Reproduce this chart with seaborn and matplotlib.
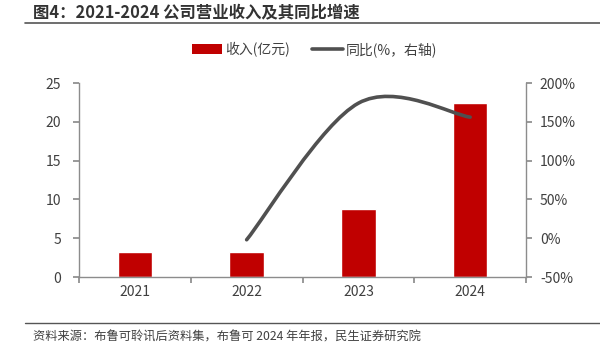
import seaborn as sns
import matplotlib.pyplot as plt
import numpy as np
from matplotlib.path import Path
from matplotlib.patches import PathPatch, Patch
from matplotlib.lines import Line2D

# Data
years = ["2021", "2022", "2023", "2024"]
revenue = [3.27, 3.18, 8.72, 22.4]          # 收入(亿元)
growth_years = ["2022", "2023", "2024"]
growth = [-2, 174, 156]                      # 同比(%)

title = "图4：2021-2024 公司营业收入及其同比增速"
source = "资料来源：布鲁可聆讯后资料集，布鲁可 2024 年年报，民生证券研究院"

sns.set_theme(style="white")
plt.rcParams['font.family'] = ['Noto Sans CJK SC', 'DejaVu Sans']

bar_color = "#C00000"
line_color = "#505050"
axis_color = "#8C8C8C"
text_color = "#404040"

fig = plt.figure(figsize=(6, 3.59), dpi=100)
ax = fig.add_axes([0.1317, 0.2284, 0.7450, 0.5404])

sns.barplot(x=years, y=revenue, color=bar_color, width=0.31, saturation=1, ax=ax)
ax.set_xlim(-0.5, 3.5)
ax.set_ylim(0, 25)
ax.set_yticks(range(0, 26, 5))
ax.set_xlabel("")
ax.set_ylabel("")

# right axis with smoothed line
ax2 = ax.twinx()
ax2.set_ylim(-50, 200)
ax2.set_yticks(range(-50, 201, 50))
ax2.set_yticklabels([f"{v}%" for v in range(-50, 201, 50)])

gx = np.array([years.index(y) for y in growth_years], dtype=float)
gy = np.array(growth, dtype=float)
pts = np.column_stack([gx, gy])
verts = [pts[0]]
codes = [Path.MOVETO]
n = len(pts)
for i in range(n - 1):
    p_prev = pts[i - 1] if i > 0 else pts[i]
    p_next = pts[i + 2] if i + 2 < n else pts[i + 1]
    c1 = pts[i] + (pts[i + 1] - p_prev) / 6
    c2 = pts[i + 1] - (p_next - pts[i]) / 6
    verts += [c1, c2, pts[i + 1]]
    codes += [Path.CURVE4] * 3
ax2.add_patch(PathPatch(Path(verts, codes), facecolor="none", edgecolor=line_color,
                        lw=2.6, capstyle="round"))

# spines and ticks
for a in (ax, ax2):
    for s in a.spines.values():
        s.set_visible(False)
ax.spines["left"].set_visible(True)
ax.spines["bottom"].set_visible(True)
ax2.spines["right"].set_visible(True)
for s in (ax.spines["left"], ax.spines["bottom"], ax2.spines["right"]):
    s.set_color(axis_color)
    s.set_linewidth(1)

ax.tick_params(axis="y", left=True, length=4, color=axis_color, labelsize=10,
               labelcolor=text_color, pad=9)
ax.set_xticks([-0.5, 0.5, 1.5, 2.5, 3.5], minor=False)
ax.set_xticklabels([])
ax.set_xticks(range(len(years)), minor=True)
ax.set_xticklabels(years, minor=True)
ax.tick_params(axis="x", which="major", bottom=True, length=4, color=axis_color)
ax.tick_params(axis="x", which="minor", bottom=False, length=0, labelsize=10,
               labelcolor=text_color, pad=6)
ax2.tick_params(axis="y", right=True, length=4, color=axis_color, labelsize=10,
                labelcolor=text_color, pad=6)

# legend
handles = [Patch(facecolor=bar_color, edgecolor="none"),
           Line2D([0], [0], color=line_color, lw=2.6)]
labels = ["收入(亿元)", "同比(%，右轴)"]
fig.legend(handles, labels, loc="center", bbox_to_anchor=(0.524, 0.862), ncol=2,
           frameon=False, fontsize=10, labelcolor=text_color, handlelength=2.2,
           handleheight=0.7, columnspacing=1.6, handletextpad=0.2)

# title, rules, source
fig.text(0.055, 0.967, title, fontsize=11.8, fontweight="bold", color="#333333",
         va="center", ha="left")
fig.add_artist(Line2D([0.042, 1.0], [0.937, 0.937], color="#555555", lw=1.2))
fig.add_artist(Line2D([0.042, 1.0], [0.1, 0.1], color="#555555", lw=1.0))
fig.text(0.055, 0.06, source, fontsize=8.8, color=text_color, va="center", ha="left")

fig.savefig("out.png", dpi=100)
